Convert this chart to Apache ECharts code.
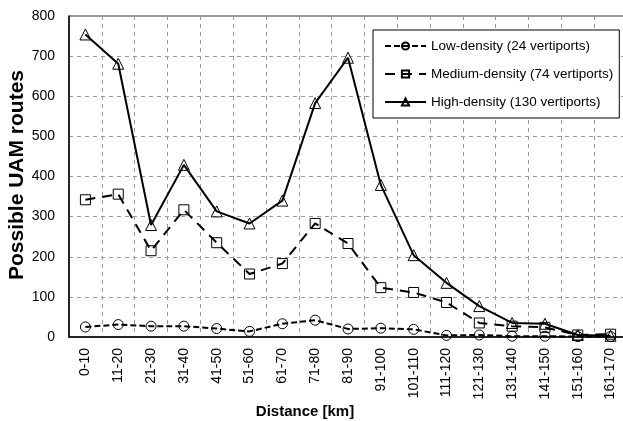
<!DOCTYPE html>
<html><head><meta charset="utf-8">
<script src="https://cdn.jsdelivr.net/npm/echarts@6/dist/echarts.min.js"></script>
<style>html,body{margin:0;padding:0;background:#fff}#c{width:623px;height:421px}</style>
</head><body><div id="c"></div>
<script>
var categories = ['0-10','11-20','21-30','31-40','41-50','51-60','61-70','71-80','81-90','91-100','101-110','111-120','121-130','131-140','141-150','151-160','161-170'];
var lowDensity = [25, 31, 27, 27, 21, 14, 33, 42, 20, 22, 19, 4, 5, 2, 2, 1, 1];
var mediumDensity = [342, 356, 215, 317, 235, 157, 183, 283, 233, 123, 111, 86, 35, 27, 24, 5, 7];
var highDensity = [754, 681, 279, 429, 313, 283, 340, 583, 696, 379, 204, 135, 77, 35, 33, 5, 3];
var seriesNames = ['Low-density (24 vertiports)', 'Medium-density (74 vertiports)', 'High-density (130 vertiports)'];
var yTicks = {min: 0, max: 800, interval: 100};
var xTitle = 'Distance [km]';
var yTitle = 'Possible UAM routes';

var FONT = 'Liberation Sans, Arial, sans-serif';
var chart = echarts.init(document.getElementById('c'));
function mk(name, data, symbol, lineType, size) {
  return {
    name: name, type: 'line', data: data, symbol: symbol, symbolSize: size,
    showAllSymbol: true,
    itemStyle: {color: 'rgba(255,255,255,0)', borderColor: '#000', borderWidth: 1},
    lineStyle: {color: '#000', width: 2, type: lineType},
    z: 3
  };
}
chart.setOption({
  animation: false,
  textStyle: {fontFamily: FONT},
  grid: {left: 69, top: 16, right: -4, bottom: 84, containLabel: false, outerBoundsMode: 'none',
    show: true, borderColor: '#333', borderWidth: 1, backgroundColor: 'transparent'},
  legend: {
    orient: 'vertical', left: 373, top: 30,
    backgroundColor: '#fff', borderColor: '#000', borderWidth: 1,
    padding: [8, 6, 8, 11], itemGap: 12, itemWidth: 41, itemHeight: 9,
    textStyle: {fontFamily: FONT, fontSize: 13.5, color: '#000', lineHeight: 16},
    data: seriesNames
  },
  xAxis: {
    type: 'category', data: categories, boundaryGap: true,
    axisLine: {lineStyle: {color: '#000', width: 1.5}},
    axisTick: {show: false},
    axisLabel: {rotate: 90, margin: 11, fontSize: 14, color: '#000', fontFamily: FONT, interval: 0},
    splitLine: {show: true, interval: 0, lineStyle: {color: '#999', type: [4, 4], width: 1}}
  },
  yAxis: {
    type: 'value', min: yTicks.min, max: yTicks.max, interval: yTicks.interval,
    axisLine: {show: true, lineStyle: {color: '#000', width: 1.5}},
    axisTick: {show: false},
    axisLabel: {margin: 14, fontSize: 14, color: '#000', fontFamily: FONT},
    splitLine: {show: true, lineStyle: {color: '#999', type: [4, 4], width: 1}}
  },
  graphic: [{
    type: 'text', x: 305, y: 404,
    style: {text: xTitle, font: 'bold 15px ' + FONT, fill: '#000', align: 'center', verticalAlign: 'top'}
  }, {
    type: 'text', x: 17, y: 175, rotation: Math.PI / 2,
    style: {text: yTitle, font: 'bold 21px ' + FONT, fill: '#000', align: 'center', verticalAlign: 'middle'}
  }],
  series: [
    mk(seriesNames[0], lowDensity, 'circle', [6, 3], 10),
    mk(seriesNames[1], mediumDensity, 'rect', [10, 7], 10),
    mk(seriesNames[2], highDensity, 'triangle', 'solid', 11)
  ]
});
</script></body></html>
